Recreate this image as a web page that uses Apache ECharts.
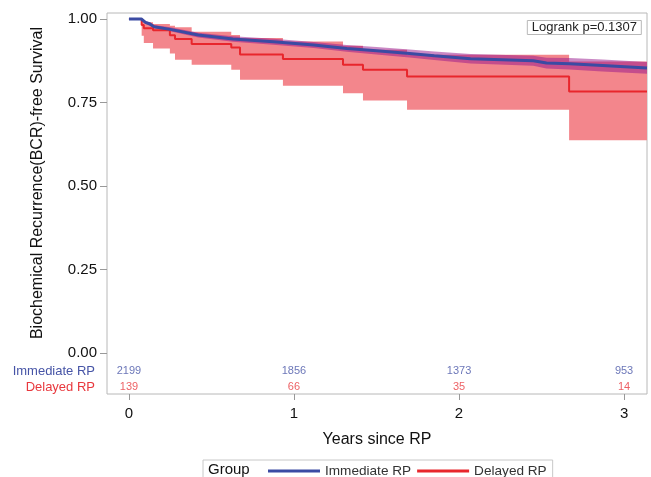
<!DOCTYPE html>
<html>
<head>
<meta charset="utf-8">
<script src="https://cdn.jsdelivr.net/npm/echarts@6/dist/echarts.min.js"></script>
<style>
  html, body { margin: 0; padding: 0; background: #fff; }
  #main { width: 651px; height: 477px; }
</style>
</head>
<body>
<div id="main"></div>
<script>
// Delayed RP: step times (years) and KM estimate with CI
var redTimes = [0, 0.077, 0.09, 0.146, 0.248, 0.279, 0.38, 0.62, 0.673, 0.933, 1.297, 1.418, 1.685, 2.667];
var redSurv  = [1.0, 0.982, 0.972, 0.966, 0.951, 0.940, 0.925, 0.915, 0.894, 0.880, 0.863, 0.848, 0.828, 0.783];
var redLower = [1.0, 0.950, 0.928, 0.912, 0.897, 0.878, 0.863, 0.848, 0.818, 0.800, 0.778, 0.756, 0.728, 0.637];
var redUpper = [1.0, 0.995, 0.990, 0.985, 0.980, 0.975, 0.962, 0.952, 0.943, 0.933, 0.920, 0.908, 0.893, 0.873];

// Immediate RP: many small steps, read as a smooth curve
var blueTimes = [0, 0.075, 0.1, 0.127, 0.152, 0.25, 0.42, 0.63, 0.875, 1.12, 1.32, 1.5, 1.7, 1.85, 2.07, 2.45, 2.53, 2.67, 2.87, 3.139];
var blueSurv  = [1.0, 1.0, 0.990, 0.985, 0.977, 0.969, 0.952, 0.940, 0.932, 0.922, 0.912, 0.905, 0.897, 0.890, 0.881, 0.875, 0.868, 0.866, 0.861, 0.853];
var blueLower = [1.0, 1.0, 0.986, 0.980, 0.972, 0.963, 0.945, 0.932, 0.923, 0.913, 0.902, 0.894, 0.885, 0.877, 0.867, 0.860, 0.852, 0.849, 0.843, 0.836];
var blueUpper = [1.0, 1.0, 0.994, 0.990, 0.982, 0.975, 0.959, 0.948, 0.941, 0.931, 0.922, 0.916, 0.909, 0.903, 0.895, 0.890, 0.884, 0.883, 0.879, 0.871];

// number at risk table
var riskTimes = [0, 1, 2, 3];
var riskImmediate = [2199, 1856, 1373, 953];
var riskDelayed = [139, 66, 35, 14];

var xTicks = [0, 1, 2, 3];
var yTicks = [0, 0.25, 0.5, 0.75, 1];

var tEnd = 3.139;
var BLUE = '#3b4ba3';
var RED = '#e8262c';

function stepLine(times, vals) {
    var out = [];
    for (var i = 0; i < times.length; i++) out.push([times[i], vals[i]]);
    out.push([tEnd, vals[vals.length - 1]]);
    return out;
}

function stepBand(times, lo, hi) {
    var top = [], bot = [];
    for (var i = 0; i < times.length; i++) {
        var t1 = i + 1 < times.length ? times[i + 1] : tEnd;
        top.push([times[i], hi[i]], [t1, hi[i]]);
        bot.push([times[i], lo[i]], [t1, lo[i]]);
    }
    return top.concat(bot.reverse());
}

function smoothBand(times, lo, hi) {
    var top = [], bot = [];
    for (var i = 0; i < times.length; i++) {
        top.push([times[i], hi[i]]);
        bot.push([times[i], lo[i]]);
    }
    return top.concat(bot.reverse());
}

function bandSeries(pts, fill) {
    return {
        type: 'custom',
        silent: true,
        clip: true,
        data: [[0, 1]],
        renderItem: function (params, api) {
            return {
                type: 'polygon',
                shape: { points: pts.map(function (p) { return api.coord(p); }) },
                style: { fill: fill }
            };
        }
    };
}

function riskSeries(counts, yPos, color) {
    return {
        type: 'scatter',
        silent: true,
        symbolSize: 1,
        itemStyle: { color: 'rgba(0,0,0,0)' },
        data: riskTimes.map(function (t) { return [t, yPos]; }),
        label: {
            show: true,
            position: 'inside',
            fontSize: 11,
            color: color,
            fontFamily: 'Liberation Sans',
            formatter: function (p) { return String(counts[p.dataIndex]); }
        }
    };
}

var myChart = echarts.init(document.getElementById('main'));

var option = {
    backgroundColor: '#fff',
    animation: false,
    textStyle: { fontFamily: 'Liberation Sans' },
    title: {
        text: 'Logrank p=0.1307',
        right: 9,
        top: 20,
        padding: [1, 5],
        borderColor: '#b8b8b8',
        borderWidth: 1,
        textStyle: { fontSize: 13, fontWeight: 'normal', color: '#222', lineHeight: 13 }
    },
    grid: {
        left: 107, right: 4, top: 13, bottom: 83,
        show: true, borderColor: '#b8b8b8', borderWidth: 1
    },
    legend: {
        left: 203,
        top: 460,
        padding: [4, 6, 12, 65],
        itemGap: 6,
        itemWidth: 52,
        itemHeight: 3,
        borderColor: '#c8c8c8',
        borderWidth: 1,
        textStyle: { fontSize: 13.6, color: '#333' },
        data: [
            { name: 'Immediate RP', icon: 'rect' },
            { name: 'Delayed RP', icon: 'rect' }
        ]
    },
    xAxis: {
        type: 'value',
        min: -0.133,
        max: tEnd,
        name: 'Years since RP',
        nameLocation: 'middle',
        nameGap: 38,
        nameTextStyle: { fontSize: 16, color: '#111' },
        axisLine: { show: false, onZero: false },
        splitLine: { show: false },
        axisTick: { customValues: xTicks, length: 6, lineStyle: { color: '#999' } },
        axisLabel: { customValues: xTicks, fontSize: 15, color: '#111', margin: 12 }
    },
    yAxis: {
        type: 'value',
        min: -0.123,
        max: 1.018,
        axisLine: { show: false, onZero: false },
        splitLine: { show: false },
        axisTick: { customValues: yTicks, length: 7, lineStyle: { color: '#999' } },
        axisLabel: {
            customValues: yTicks,
            fontSize: 15,
            color: '#111',
            margin: 10,
            formatter: function (v) { return v.toFixed(2); }
        }
    },
    graphic: [
        {
            type: 'text',
            x: 38, y: 183,
            rotation: Math.PI / 2,
            style: {
                text: 'Biochemical Recurrence(BCR)-free Survival',
                fontSize: 16, fill: '#111', fontFamily: 'Liberation Sans',
                align: 'center', verticalAlign: 'middle'
            }
        },
        {
            type: 'text', x: 95, y: 371.5,
            style: { text: 'Immediate RP', fontSize: 13, fill: '#4654a6', fontFamily: 'Liberation Sans', align: 'right', verticalAlign: 'middle' }
        },
        {
            type: 'text', x: 95, y: 387,
            style: { text: 'Delayed RP', fontSize: 13, fill: '#e8383d', fontFamily: 'Liberation Sans', align: 'right', verticalAlign: 'middle' }
        },
        {
            type: 'text', x: 208, y: 470,
            style: { text: 'Group', fontSize: 15, fill: '#111', fontFamily: 'Liberation Sans', align: 'left', verticalAlign: 'middle' }
        }
    ],
    series: [
        bandSeries(stepBand(redTimes, redLower, redUpper), '#f3868c'),
        {
            name: 'Delayed RP',
            type: 'line',
            step: 'end',
            showSymbol: false,
            symbol: 'none',
            color: RED,
            lineStyle: { color: RED, width: 2 },
            data: stepLine(redTimes, redSurv)
        },
        bandSeries(smoothBand(blueTimes, blueLower, blueUpper), 'rgba(150,20,140,0.5)'),
        {
            name: 'Immediate RP',
            type: 'line',
            showSymbol: false,
            symbol: 'none',
            color: BLUE,
            lineStyle: { color: BLUE, width: 3 },
            data: blueTimes.map(function (t, i) { return [t, blueSurv[i]]; })
        },
        riskSeries(riskImmediate, -0.0554, '#4654a6'),
        riskSeries(riskDelayed, -0.102, '#e8383d')
    ]
};

myChart.setOption(option);
</script>
</body>
</html>
